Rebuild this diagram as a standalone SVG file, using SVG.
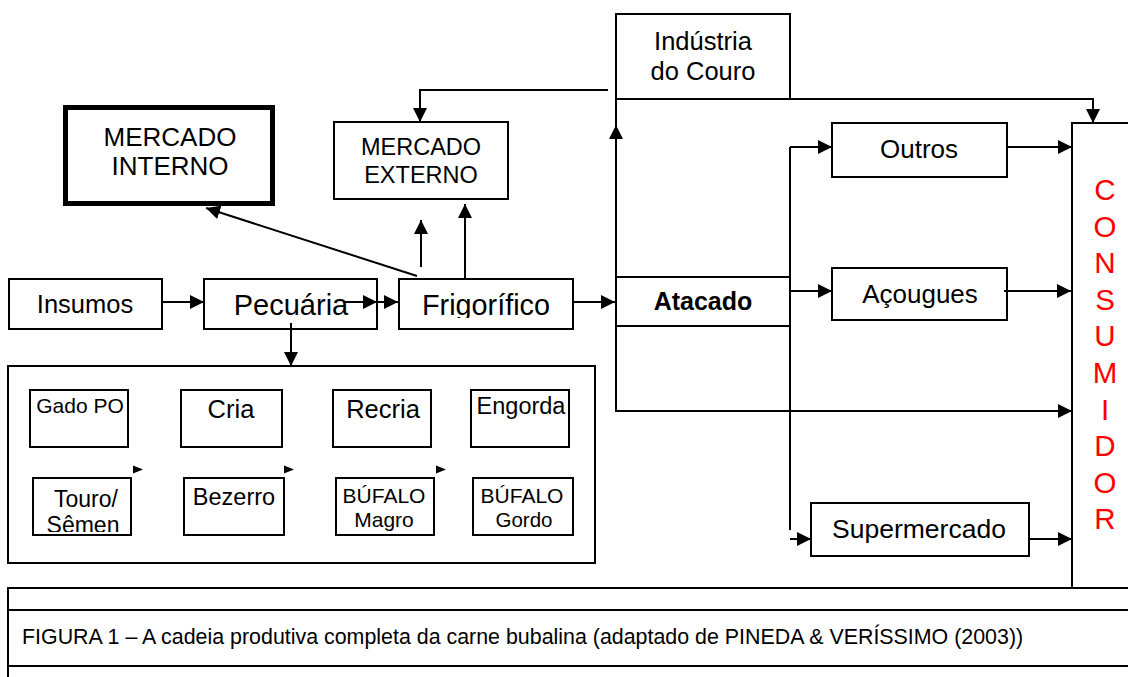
<svg xmlns="http://www.w3.org/2000/svg" width="1128" height="677" viewBox="0 0 1128 677">
<style>
text{font-family:"Liberation Sans",Arial,sans-serif;fill:#000}
.box{fill:#fff;stroke:#000;stroke-width:2}
.t26{font-size:26px;text-anchor:middle}
.ln{fill:none;stroke:#000;stroke-width:2}
.arr{fill:none;stroke:#000;stroke-width:2;marker-end:url(#ah)}
.cons{font-size:29.5px;fill:#f00;text-anchor:middle}
</style>
<defs>
<marker id="ah" viewBox="0 0 14 14" refX="14" refY="7" markerWidth="14" markerHeight="14" markerUnits="userSpaceOnUse" orient="auto"><path d="M0,0 L14,7 L0,14 z" fill="#000"/></marker>
<clipPath id="cFrig"><rect x="399" y="279" width="174" height="39"/></clipPath>
<clipPath id="cTouro"><rect x="33" y="478" width="98" height="54"/></clipPath>
</defs>
<rect width="1128" height="677" fill="#fff"/>

<g id="industria"><rect class="box" x="616" y="14" width="174" height="85"/><text class="t26" x="703" y="50" style="font-size:25.5px">Indústria</text><text class="t26" x="703" y="80" style="font-size:25.5px">do Couro</text></g>
<g id="mercado-interno"><rect x="65.5" y="107.5" width="207" height="96" fill="#fff" stroke="#000" stroke-width="5"/><text class="t26" x="170" y="146">MERCADO</text><text class="t26" x="170" y="175">INTERNO</text></g>
<g id="mercado-externo"><rect class="box" x="334" y="122" width="174" height="77"/><text class="t26" x="421" y="155" style="font-size:23.5px">MERCADO</text><text class="t26" x="421" y="183" style="font-size:23.5px">EXTERNO</text></g>
<g id="insumos"><rect class="box" x="9" y="279" width="153" height="50"/><text class="t26" x="85" y="313" style="font-size:25.5px">Insumos</text></g>
<g id="pecuaria"><rect class="box" x="204" y="279" width="173" height="50"/><text class="t26" x="291" y="315" style="font-size:29px">Pecuária</text></g>
<g id="frigorifico"><rect class="box" x="399" y="279" width="174" height="50"/><text class="t26" x="486" y="315" style="font-size:28.8px" clip-path="url(#cFrig)">Frigorífico</text></g>
<g id="atacado"><rect class="box" x="616" y="277" width="174" height="49"/><text class="t26" x="703" y="310" style="font-size:25px;font-weight:bold">Atacado</text></g>
<g id="outros"><rect class="box" x="832" y="123" width="175" height="54"/><text class="t26" x="919" y="158">Outros</text></g>
<g id="acougues"><rect class="box" x="832" y="268" width="175" height="52"/><text class="t26" x="920" y="303">Açougues</text></g>
<g id="supermercado"><rect class="box" x="811" y="503" width="218" height="53"/><text class="t26" x="919" y="538" style="font-size:26.5px">Supermercado</text></g>
<g id="consumidor"><rect class="box" x="1072" y="123" width="70" height="465"/>
<text class="cons" x="1105" y="200">C</text><text class="cons" x="1105" y="236.6">O</text><text class="cons" x="1105" y="273.2">N</text><text class="cons" x="1105" y="309.8">S</text><text class="cons" x="1105" y="346.4">U</text><text class="cons" x="1105" y="383">M</text><text class="cons" x="1105" y="419.6">I</text><text class="cons" x="1105" y="456.2">D</text><text class="cons" x="1105" y="492.8">O</text><text class="cons" x="1105" y="529.4">R</text></g>

<g id="pecuaria-etapas"><rect class="box" x="8" y="366" width="587" height="197"/>
<g id="gado-po"><rect class="box" x="30" y="390" width="98" height="57"/><text x="80" y="413" style="font-size:21px;text-anchor:middle">Gado PO</text></g>
<g id="cria"><rect class="box" x="181" y="390" width="101" height="57"/><text x="231" y="418" style="font-size:25.5px;text-anchor:middle">Cria</text></g>
<g id="recria"><rect class="box" x="333" y="390" width="98" height="57"/><text x="383" y="418" style="font-size:25.5px;text-anchor:middle">Recria</text></g>
<g id="engorda"><rect class="box" x="471" y="390" width="98" height="57"/><text x="521" y="414" style="font-size:23.5px;text-anchor:middle">Engorda</text></g>
<g id="touro"><rect class="box" x="33" y="478" width="98" height="57"/><text x="86" y="507" style="font-size:23px;text-anchor:middle">Touro/</text><text x="83" y="533" style="font-size:23px;text-anchor:middle" clip-path="url(#cTouro)">Sêmen</text></g>
<g id="bezerro"><rect class="box" x="184" y="478" width="100" height="57"/><text x="234" y="505" style="font-size:23.5px;text-anchor:middle">Bezerro</text></g>
<g id="bufalo-magro"><rect class="box" x="336" y="478" width="98" height="57"/><text x="384" y="503" style="font-size:21px;text-anchor:middle">BÚFALO</text><text x="384" y="527" style="font-size:21px;text-anchor:middle">Magro</text></g>
<g id="bufalo-gordo"><rect class="box" x="473" y="478" width="100" height="57"/><text x="522" y="503" style="font-size:21px;text-anchor:middle">BÚFALO</text><text x="524" y="527" style="font-size:20.5px;text-anchor:middle">Gordo</text></g>
</g>

<g id="connectors">
<path class="arr" d="M162,302 L204,302"/>
<path class="arr" d="M345,302 L377,302"/>
<path class="arr" d="M377,302 L398,302"/>
<path class="arr" d="M573,302 L615,302"/>
<path class="arr" d="M417,276 L206,208"/>
<path class="arr" d="M421,267 L421,220"/>
<path class="arr" d="M465,278 L465,204"/>
<path class="arr" d="M608,90 L420,90 L420,122"/>
<path class="arr" d="M616,277 L616,125"/>
<path class="ln" d="M616,125 L616,99"/>
<path class="arr" d="M790,99 L1093,99 L1093,123"/>
<path class="ln" d="M790,147 L790,530"/>
<path class="arr" d="M790,147 L832,147"/>
<path class="arr" d="M790,291 L832,291"/>
<path class="arr" d="M790,539 L811,539"/>
<path class="arr" d="M1007,147 L1072,147"/>
<path class="arr" d="M1004,291 L1071,291"/>
<path class="arr" d="M616,326 L616,411 L1072,411"/>
<path class="arr" d="M1029,539 L1072,539"/>
<path class="arr" d="M291,323 L291,366"/>
<polygon points="133,465.5 143,469.5 133,473.5" fill="#000"/>
<polygon points="284,465.5 294,469.5 284,473.5" fill="#000"/>
<polygon points="436,465.5 446,469.5 436,473.5" fill="#000"/>
</g>

<g id="legenda">
<path class="ln" d="M8,588 L1128,588 M8,610 L1128,610 M8,666 L1128,666 M8,587 L8,677"/>
<text x="22" y="644" style="font-size:21.4px">FIGURA 1 – A cadeia produtiva completa da carne bubalina (adaptado de PINEDA &amp; VERÍSSIMO (2003))</text>
</g>
</svg>
